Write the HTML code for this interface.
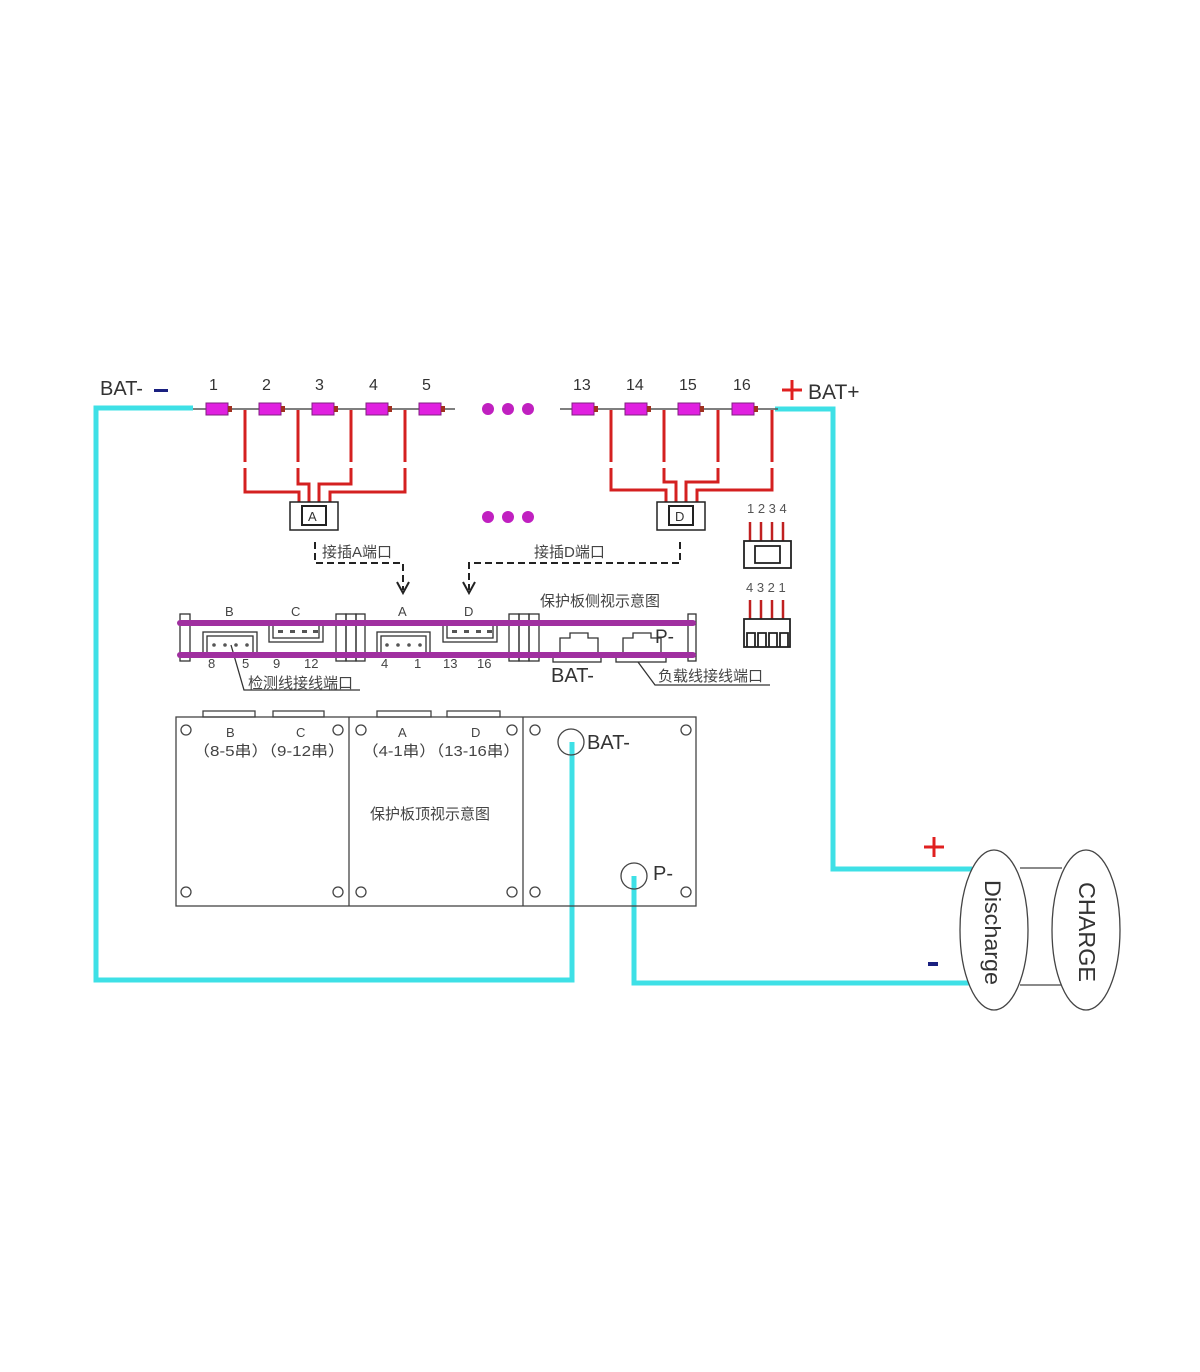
<!DOCTYPE html>
<html><head><meta charset="utf-8"><style>
html,body{margin:0;padding:0;background:#fff;}
svg{display:block;}
text{font-family:"Liberation Sans","Noto Sans CJK SC",sans-serif;}
</style></head><body>
<svg width="1200" height="1372" viewBox="0 0 1200 1372" xmlns="http://www.w3.org/2000/svg">
<rect width="1200" height="1372" fill="#fff"/>

<g fill="none" stroke="#3ee0e6" stroke-width="5">
<polyline points="193,408 96,408 96,980 572,980 572,742"/>
<polyline points="634,876 634,983 972,983"/>
<polyline points="775,409 833,409 833,869 972,869"/>
</g>

<line x1="193" y1="409" x2="455" y2="409" stroke="#555" stroke-width="1.5"/>
<line x1="560" y1="409" x2="778" y2="409" stroke="#555" stroke-width="1.5"/>

<g fill="none" stroke="#d42020" stroke-width="3">
<polyline points="245,410 245,462"/><polyline points="245,468 245,492 299,492 299,502"/>
<polyline points="298,410 298,462"/><polyline points="298,468 298,484 309,484 309,502"/>
<polyline points="351,410 351,462"/><polyline points="351,468 351,484 319,484 319,502"/>
<polyline points="405,410 405,462"/><polyline points="405,468 405,492 330,492 330,502"/>
<polyline points="611,410 611,462"/><polyline points="611,468 611,490 666,490 666,502"/>
<polyline points="664,410 664,462"/><polyline points="664,468 664,482 676,482 676,502"/>
<polyline points="718,410 718,462"/><polyline points="718,468 718,482 686,482 686,502"/>
<polyline points="772,410 772,462"/><polyline points="772,468 772,490 697,490 697,502"/>
</g>

<g fill="#e020e0" stroke="#802080" stroke-width="1">
<rect x="206" y="403" width="22" height="12"/><rect x="259" y="403" width="22" height="12"/>
<rect x="312" y="403" width="22" height="12"/><rect x="366" y="403" width="22" height="12"/>
<rect x="419" y="403" width="22" height="12"/>
<rect x="572" y="403" width="22" height="12"/><rect x="625" y="403" width="22" height="12"/>
<rect x="678" y="403" width="22" height="12"/><rect x="732" y="403" width="22" height="12"/>
</g>
<g fill="#a03020">
<rect x="228" y="406" width="4" height="6"/><rect x="281" y="406" width="4" height="6"/>
<rect x="334" y="406" width="4" height="6"/><rect x="388" y="406" width="4" height="6"/>
<rect x="441" y="406" width="4" height="6"/><rect x="594" y="406" width="4" height="6"/>
<rect x="647" y="406" width="4" height="6"/><rect x="700" y="406" width="4" height="6"/>
<rect x="754" y="406" width="4" height="6"/>
</g>
<g fill="#c020c0">
<circle cx="488" cy="409" r="6"/><circle cx="508" cy="409" r="6"/><circle cx="528" cy="409" r="6"/>
<circle cx="488" cy="517" r="6"/><circle cx="508" cy="517" r="6"/><circle cx="528" cy="517" r="6"/>
</g>

<g font-size="16" fill="#333">
<text x="100" y="395" font-size="20">BAT-</text>
<text x="209" y="390">1</text><text x="262" y="390">2</text><text x="315" y="390">3</text>
<text x="369" y="390">4</text><text x="422" y="390">5</text>
<text x="573" y="390">13</text><text x="626" y="390">14</text><text x="679" y="390">15</text><text x="733" y="390">16</text>
<text x="808" y="399" font-size="21">BAT+</text>
</g>
<rect x="154" y="389" width="14" height="3" fill="#1a2080"/>
<path d="M782,390 h20 M792,380 v20" stroke="#e02020" stroke-width="3"/>

<g fill="none" stroke="#222" stroke-width="1.5">
<rect x="290" y="502" width="48" height="28"/><rect x="302" y="506" width="24" height="19" stroke-width="2"/>
<rect x="657" y="502" width="48" height="28"/><rect x="669" y="506" width="24" height="19" stroke-width="2"/>
</g>
<text x="308" y="521" font-size="13" fill="#333">A</text>
<text x="675" y="521" font-size="13" fill="#333">D</text>

<g fill="none" stroke="#222" stroke-width="2" stroke-dasharray="7,4">
<polyline points="315,542 315,563 403,563 403,590"/>
<polyline points="680,542 680,563 469,563 469,590"/>
</g>
<g fill="none" stroke="#222" stroke-width="2">
<polyline points="397,582 403,593 409,582"/><polyline points="463,582 469,593 475,582"/>
</g>
<text x="322" y="557" font-size="15" fill="#444">接插A端口</text>
<text x="534" y="557" font-size="15" fill="#444">接插D端口</text>

<g font-size="13" fill="#555"><text x="747" y="513">1 2 3 4</text><text x="746" y="592">4 3 2 1</text></g>
<g stroke="#c02020" stroke-width="2.5">
<line x1="750" y1="522" x2="750" y2="541"/><line x1="761" y1="522" x2="761" y2="541"/>
<line x1="772" y1="522" x2="772" y2="541"/><line x1="783" y1="522" x2="783" y2="541"/>
<line x1="750" y1="600" x2="750" y2="619"/><line x1="761" y1="600" x2="761" y2="619"/>
<line x1="772" y1="600" x2="772" y2="619"/><line x1="783" y1="600" x2="783" y2="619"/>
</g>
<g fill="none" stroke="#222" stroke-width="1.8">
<rect x="744" y="541" width="47" height="27"/><rect x="755" y="546" width="25" height="17"/>
<rect x="744" y="619" width="46" height="28"/>
<path d="M747,647 v-14 h8 v14 M758,647 v-14 h8 v14 M769,647 v-14 h8 v14 M780,647 v-14 h8 v14"/>
</g>

<text x="540" y="606" font-size="15" fill="#444">保护板侧视示意图</text>
<g font-size="13" fill="#444">
<text x="225" y="616">B</text><text x="291" y="616">C</text><text x="398" y="616">A</text><text x="464" y="616">D</text>
<text x="208" y="668">8</text><text x="242" y="668">5</text><text x="273" y="668">9</text><text x="304" y="668">12</text>
<text x="381" y="668">4</text><text x="414" y="668">1</text><text x="443" y="668">13</text><text x="477" y="668">16</text>
</g>
<g fill="none" stroke="#333" stroke-width="1.3">
<rect x="180" y="614" width="10" height="47"/><rect x="688" y="614" width="8" height="47"/>
<rect x="336" y="614" width="10" height="47"/><rect x="346" y="614" width="10" height="47"/><rect x="356" y="614" width="9" height="47"/>
<rect x="509" y="614" width="10" height="47"/><rect x="519" y="614" width="10" height="47"/><rect x="529" y="614" width="10" height="47"/>
<rect x="203" y="632" width="54" height="21"/><rect x="207" y="636" width="46" height="17"/>
<rect x="269" y="624" width="54" height="18"/><rect x="273" y="624" width="46" height="14"/>
<rect x="377" y="632" width="53" height="21"/><rect x="381" y="636" width="45" height="17"/>
<rect x="443" y="624" width="54" height="18"/><rect x="447" y="624" width="46" height="14"/>
<path d="M560,653 v-15 h10 v-5 h18 v5 h10 v15"/><rect x="553" y="655" width="48" height="7"/>
<path d="M623,653 v-15 h10 v-5 h18 v5 h10 v15"/><rect x="616" y="655" width="50" height="7"/>
<polyline points="231,645 244,690 360,690"/>
<polyline points="638,662 655,685 770,685"/>
</g>
<g fill="#555">
<circle cx="214" cy="645" r="1.8"/><circle cx="225" cy="645" r="1.8"/><circle cx="236" cy="645" r="1.8"/><circle cx="247" cy="645" r="1.8"/>
<circle cx="387" cy="645" r="1.8"/><circle cx="398" cy="645" r="1.8"/><circle cx="409" cy="645" r="1.8"/><circle cx="420" cy="645" r="1.8"/>
<rect x="278" y="630" width="5" height="3"/><rect x="290" y="630" width="5" height="3"/><rect x="302" y="630" width="5" height="3"/><rect x="313" y="630" width="5" height="3"/>
<rect x="452" y="630" width="5" height="3"/><rect x="464" y="630" width="5" height="3"/><rect x="476" y="630" width="5" height="3"/><rect x="487" y="630" width="5" height="3"/>
</g>
<g fill="#a030a0">
<rect x="177" y="620" width="519" height="6" rx="3"/>
<rect x="177" y="652" width="519" height="6" rx="3"/>
</g>
<text x="655" y="643" font-size="19" fill="#333">P-</text>
<text x="551" y="682" font-size="20" fill="#333">BAT-</text>
<text x="248" y="688" font-size="15" fill="#444">检测线接线端口</text>
<text x="658" y="681" font-size="15" fill="#444">负载线接线端口</text>

<g fill="none" stroke="#444" stroke-width="1.3">
<rect x="176" y="717" width="520" height="189"/>
<line x1="349" y1="717" x2="349" y2="906"/><line x1="523" y1="717" x2="523" y2="906"/>
<rect x="203" y="711" width="52" height="6"/><rect x="273" y="711" width="51" height="6"/>
<rect x="377" y="711" width="54" height="6"/><rect x="447" y="711" width="53" height="6"/>
<circle cx="186" cy="730" r="5"/><circle cx="338" cy="730" r="5"/><circle cx="361" cy="730" r="5"/><circle cx="512" cy="730" r="5"/>
<circle cx="535" cy="730" r="5"/><circle cx="686" cy="730" r="5"/>
<circle cx="186" cy="892" r="5"/><circle cx="338" cy="892" r="5"/><circle cx="361" cy="892" r="5"/><circle cx="512" cy="892" r="5"/>
<circle cx="535" cy="892" r="5"/><circle cx="686" cy="892" r="5"/>
<circle cx="571" cy="742" r="13"/><circle cx="634" cy="876" r="13"/>
</g>
<g font-size="13" fill="#444">
<text x="226" y="737">B</text><text x="296" y="737">C</text><text x="398" y="737">A</text><text x="471" y="737">D</text>
</g>
<g font-size="15" fill="#444">
<text x="193" y="756" textLength="152" lengthAdjust="spacingAndGlyphs">（8-5串）（9-12串）</text>
<text x="362" y="756" textLength="158" lengthAdjust="spacingAndGlyphs">（4-1串）（13-16串）</text>
<text x="370" y="819">保护板顶视示意图</text>
</g>
<text x="587" y="749" font-size="20" fill="#333">BAT-</text>
<text x="653" y="880" font-size="20" fill="#333">P-</text>

<path d="M924,847 h20 M934,837 v20" stroke="#e02020" stroke-width="3"/>
<rect x="928" y="962" width="10" height="4" fill="#1a2080"/>
<g fill="#fff" stroke="#444" stroke-width="1.3">
<line x1="1020" y1="868" x2="1062" y2="868"/><line x1="1020" y1="985" x2="1062" y2="985"/>
<ellipse cx="1086" cy="930" rx="34" ry="80"/>
<ellipse cx="994" cy="930" rx="34" ry="80"/>
</g>
<text transform="translate(985,880) rotate(90)" font-size="22" fill="#333" textLength="105" lengthAdjust="spacingAndGlyphs">Discharge</text>
<text transform="translate(1079,882) rotate(90)" font-size="23" fill="#333" textLength="100" lengthAdjust="spacingAndGlyphs">CHARGE</text>
</svg>
</body></html>
